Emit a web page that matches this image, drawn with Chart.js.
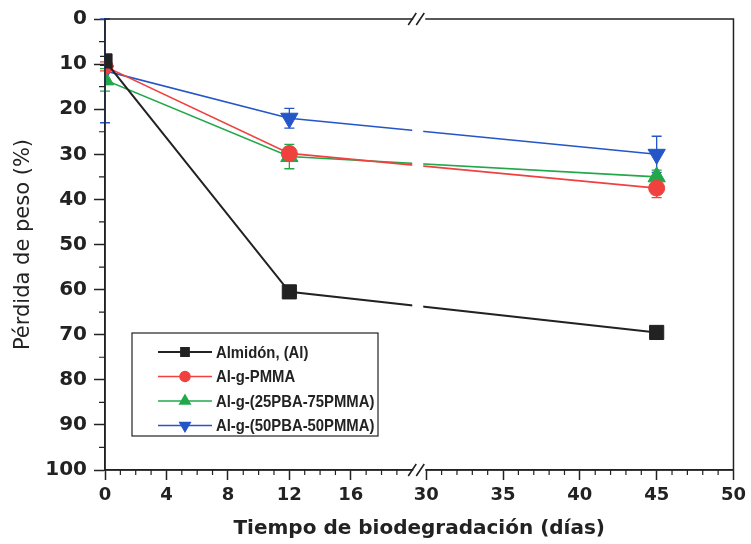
<!DOCTYPE html>
<html><head><meta charset="utf-8">
<script src="https://cdn.jsdelivr.net/npm/chart.js@4/dist/chart.umd.min.js"></script>
<style>html,body{margin:0;padding:0;background:#fff}#wrap{width:751px;height:544px}</style>
</head><body><div id="wrap"><canvas id="c" width="751" height="544"></canvas></div>
<script>
// ---- data ----
const days = [0, 12, 45];
const seriesNames = ['Almidón, (Al)', 'Al-g-PMMA', 'Al-g-(25PBA-75PMMA)', 'Al-g-(50PBA-50PMMA)'];
const almidon = [9.3, 60.5, 69.5];
const pmma = [10.5, 29.8, 37.5];
const pba25 = [13.5, 30.5, 35.0];
const pba50 = [11.5, 22.0, 30.0];
const almidonErr = [1.0, 1.0, 1.2];
const pmmaErr = [1.0, 1.0, 2.1];
const pba25Err = [2.5, 2.7, 1.5];
const pba50Err = [11.5, 2.2, 4.0];
const xTickLabels = [0, 4, 8, 12, 16, 30, 35, 40, 45, 50];
const yTickLabels = [0, 10, 20, 30, 40, 50, 60, 70, 80, 90, 100];

// broken axis: 20..30 removed, small gap
const GAP = 0.91;
const tx = v => v <= 20 ? v : v - 10 + GAP;

const FONT = "Arial, 'Liberation Sans', sans-serif";
const WIDE = "'DejaVu Sans', Verdana, sans-serif";
const INK = '#222';
const colors = ['#222222', '#f0413f', '#22a84a', '#2456c8'];
const shapes = ['rect', 'circle', 'triangle', 'triangle'];
const rots = [0, 0, 0, 180];
const radii = [10, 8, 10, 10];
const legendRadii = [5.5, 5, 6, 6];
const vals = [almidon, pmma, pba25, pba50];
const errs = [almidonErr, pmmaErr, pba25Err, pba50Err];

const datasets = vals.map((arr, i) => ({
  label: seriesNames[i],
  data: days.map((d, k) => ({x: tx(d), y: arr[k]})),
  errors: errs[i],
  borderColor: colors[i],
  backgroundColor: colors[i],
  borderWidth: i === 0 ? 2 : 1.6,
  pointStyle: shapes[i],
  rotation: rots[i],
  pointRadius: radii[i],
  pointBorderWidth: 1,
  tension: 0
}));

const errorBars = {
  id: 'errorBars',
  beforeDatasetsDraw(chart) {
    const ctx = chart.ctx, ys = chart.scales.y;
    chart.data.datasets.forEach((ds, i) => {
      const meta = chart.getDatasetMeta(i);
      ctx.save();
      ctx.strokeStyle = ds.borderColor; ctx.lineWidth = 1.3;
      meta.data.forEach((pt, k) => {
        const e = ds.errors[k]; if (!e) return;
        const v = ds.data[k].y;
        const y1 = ys.getPixelForValue(Math.max(0, v - e)), y2 = ys.getPixelForValue(v + e);
        ctx.beginPath();
        ctx.moveTo(pt.x, y1); ctx.lineTo(pt.x, y2);
        ctx.moveTo(pt.x - 5, y1); ctx.lineTo(pt.x + 5, y1);
        ctx.moveTo(pt.x - 5, y2); ctx.lineTo(pt.x + 5, y2);
        ctx.stroke();
      });
      ctx.restore();
    });
  }
};

const decor = {
  id: 'decor',
  afterDatasetsDraw(chart) {
    const ctx = chart.ctx, xs = chart.scales.x, ys = chart.scales.y, a = chart.chartArea;
    const bx1 = xs.getPixelForValue(tx(20)), bx2 = xs.getPixelForValue(tx(30));
    ctx.save();
    // gap in lines at the axis break
    ctx.fillStyle = '#fff';
    ctx.fillRect(bx1, a.top + 2, bx2 - bx1 - 3, a.bottom - a.top - 4);
    // frame
    ctx.strokeStyle = INK; ctx.lineWidth = 1.5;
    ctx.strokeRect(a.left, a.top, a.right - a.left, a.bottom - a.top);
    // break marks
    [a.top, a.bottom].forEach(y => {
      ctx.fillStyle = '#fff';
      ctx.fillRect(bx1 + 1, y - 2, bx2 - bx1 - 2, 4);
      ctx.strokeStyle = INK; ctx.lineWidth = 1.6;
      ctx.beginPath();
      ctx.moveTo(bx1 - 4, y + 6); ctx.lineTo(bx1 + 4, y - 6);
      ctx.moveTo(bx1 + 4, y + 6); ctx.lineTo(bx1 + 12, y - 6);
      ctx.stroke();
    });
    // minor ticks
    ctx.strokeStyle = INK; ctx.lineWidth = 1.2;
    ctx.beginPath();
    for (let v = 5; v < 100; v += 10) {
      const y = ys.getPixelForValue(v);
      ctx.moveTo(a.left, y); ctx.lineTo(a.left - 6, y);
    }
    for (let v = 1; v < 20; v++) {
      if (v % 4 === 0) continue;
      const x = xs.getPixelForValue(tx(v));
      ctx.moveTo(x, a.bottom); ctx.lineTo(x, a.bottom + 5);
    }
    for (let v = 31; v < 50; v++) {
      if (v % 5 === 0) continue;
      const x = xs.getPixelForValue(tx(v));
      ctx.moveTo(x, a.bottom); ctx.lineTo(x, a.bottom + 5);
    }
    ctx.stroke();
    // legend
    const L = 132, T = 333, R = 378, B = 436;
    ctx.fillStyle = '#fff';
    ctx.fillRect(L, T, R - L, B - T);
    ctx.strokeStyle = INK; ctx.lineWidth = 1.2;
    ctx.strokeRect(L, T, R - L, B - T);
    chart.data.datasets.forEach((ds, i) => {
      const y = T + 19 + i * 24.5;
      ctx.strokeStyle = ds.borderColor; ctx.lineWidth = i === 0 ? 2 : 1.5;
      ctx.beginPath(); ctx.moveTo(158, y); ctx.lineTo(212, y); ctx.stroke();
      ctx.fillStyle = ds.backgroundColor;
      Chart.helpers.drawPoint(ctx, {pointStyle: ds.pointStyle, rotation: ds.rotation, radius: legendRadii[i], borderWidth: 1}, 185, y);
      ctx.save();
      ctx.translate(216, y + 1);
      ctx.scale(0.9, 1);
      ctx.font = 'bold 16.5px ' + FONT;
      ctx.textBaseline = 'middle';
      ctx.fillStyle = INK;
      ctx.fillText(ds.label, 0, 0);
      ctx.restore();
    });
    ctx.restore();
  }
};

new Chart(document.getElementById('c'), {
  type: 'line',
  data: {datasets},
  plugins: [errorBars, decor],
  options: {
    responsive: false,
    animation: false,
    layout: {padding: {top: 18, right: 16, left: 0, bottom: 0}},
    plugins: {legend: {display: false}, tooltip: {enabled: false}},
    scales: {
      x: {
        type: 'linear', min: 0, max: tx(50),
        afterFit(s) { s.height = 74; },
        afterBuildTicks(s) { s.ticks = xTickLabels.map(v => ({value: tx(v)})); },
        ticks: {
          callback: (v, i) => String(xTickLabels[i]),
          color: INK, font: {family: WIDE, size: 18, weight: 'bold'}, padding: 5, maxRotation: 0, autoSkip: false
        },
        grid: {drawOnChartArea: false, tickLength: 10, color: INK, tickWidth: 1.5},
        border: {color: INK, width: 1.5},
        title: {display: true, text: 'Tiempo de biodegradación (días)', color: INK,
          font: {family: WIDE, size: 20, weight: 'bold'}, padding: {top: 0, bottom: 3}}
      },
      y: {
        type: 'linear', reverse: true, min: 0, max: 100,
        afterFit(s) { s.width = 105; },
        afterBuildTicks(s) { s.ticks = yTickLabels.map(v => ({value: v})); },
        ticks: {
          color: INK, font: {family: WIDE, size: 20, weight: 'bold'}, padding: 7
        },
        grid: {drawOnChartArea: false, tickLength: 11, color: INK, tickWidth: 1.5},
        border: {color: INK, width: 1.5},
        title: {display: true, text: 'Pérdida de peso (%)', color: INK,
          font: {family: WIDE, size: 21}, padding: {top: 11, bottom: 0}}
      }
    }
  }
});
</script></body></html>
